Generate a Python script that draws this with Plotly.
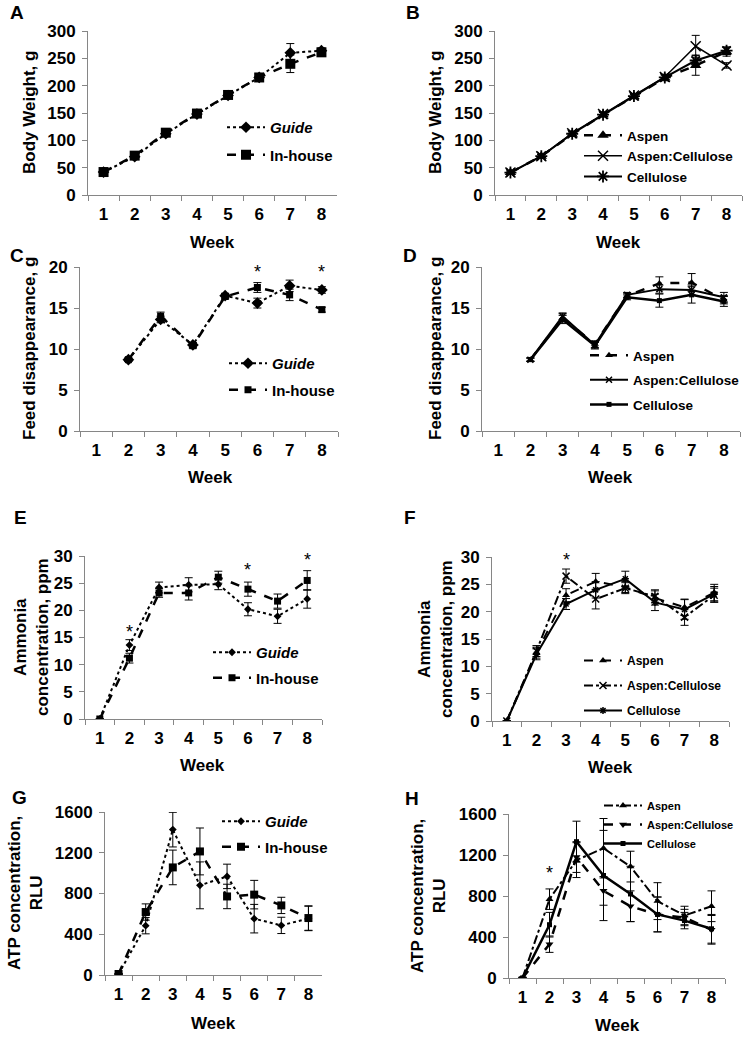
import plotly.graph_objects as go

W, H = 744, 1039
FONT = "Liberation Sans, Arial, sans-serif"
AXC = "#868686"

weeks = ["1", "2", "3", "4", "5", "6", "7", "8"]

# Panel A - body weight
bw_guide = [42, 70, 112, 148, 182, 215, 260, 264]
bw_guide_err = [3, 3, 4, 4, 4, 4, 17, 5]
bw_inhouse = [42, 72, 114, 149, 183, 215, 240, 261]
bw_inhouse_err = [3, 3, 4, 4, 4, 4, 16, 5]

# Panel B - body weight by bedding
bw_aspen = [41, 71, 111, 147, 180, 214, 237, 262]
bw_aspen_err = [3, 3, 4, 4, 4, 5, 18, 8]
bw_ac = [41, 71, 113, 148, 182, 216, 272, 237]
bw_ac_err = [3, 3, 4, 4, 4, 5, 20, 5]
bw_cell = [41, 71, 112, 147, 181, 215, 246, 264]
bw_cell_err = [3, 3, 4, 4, 4, 5, 10, 7]

# Panel C - feed disappearance
fd_guide = [None, 8.7, 13.6, 10.5, 16.5, 15.6, 17.7, 17.2]
fd_guide_err = [None, 0.2, 0.4, 0.3, 0.3, 0.6, 0.7, 0.4]
fd_inhouse = [None, 8.7, 14.0, 10.4, 16.4, 17.5, 16.6, 14.8]
fd_inhouse_err = [None, 0.2, 0.5, 0.3, 0.3, 0.6, 0.7, 0.3]

# Panel D - feed disappearance by bedding
fd_aspen = [None, 8.7, 13.8, 10.6, 16.5, 18.0, 18.1, 16.0]
fd_aspen_err = [None, 0.2, 0.5, 0.4, 0.3, 0.8, 1.1, 0.5]
fd_ac = [None, 8.7, 14.0, 10.5, 16.6, 17.3, 17.2, 16.3]
fd_ac_err = [None, 0.2, 0.4, 0.4, 0.3, 0.5, 0.6, 0.6]
fd_cell = [None, 8.7, 13.6, 10.4, 16.3, 15.9, 16.6, 15.8]
fd_cell_err = [None, 0.2, 0.5, 0.4, 0.3, 0.8, 1.0, 0.6]

# Panel E - ammonia
am_guide = [0, 13.6, 24.2, 24.7, 24.8, 20.2, 18.9, 22.1]
am_guide_err = [0, 1.0, 1.0, 1.3, 1.0, 1.2, 1.3, 1.7]
am_inhouse = [0, 11.2, 23.2, 23.2, 26.1, 23.9, 21.7, 25.5]
am_inhouse_err = [0, 0.9, 0.8, 1.3, 1.1, 1.3, 1.3, 1.8]

# Panel F - ammonia by bedding
am_aspen = [0, 12.5, 23.0, 25.5, 24.5, 22.5, 20.8, 23.5]
am_aspen_err = [0, 1.0, 1.2, 1.5, 1.0, 1.3, 1.5, 1.5]
am_ac = [0, 12.8, 26.5, 22.3, 24.3, 22.8, 19.0, 23.0]
am_ac_err = [0, 1.0, 1.3, 1.8, 1.0, 1.2, 1.5, 1.3]
am_cell = [0, 12.2, 21.4, 24.0, 26.0, 21.7, 20.4, 23.2]
am_cell_err = [0, 1.0, 1.0, 1.5, 1.4, 1.5, 1.8, 1.4]

# Panel G - ATP
atp_guide = [10, 484, 1427, 880, 968, 553, 487, 555]
atp_guide_err = [5, 80, 170, 230, 120, 140, 80, 120]
atp_inhouse = [10, 618, 1056, 1213, 771, 789, 683, 559]
atp_inhouse_err = [5, 80, 170, 230, 120, 140, 80, 120]

# Panel H - ATP by bedding
atp_aspen = [0, 769, 1150, 1266, 1087, 750, 610, 700]
atp_aspen_err = [5, 100, 170, 290, 150, 180, 90, 150]
atp_ac = [0, 330, 1180, 850, 700, 620, 590, 470]
atp_ac_err = [5, 80, 150, 140, 150, 170, 80, 140]
atp_cell = [0, 520, 1330, 1000, 820, 620, 560, 480]
atp_cell_err = [5, 120, 200, 440, 270, 170, 80, 140]

# significance stars (week number, height)
stars_C = ([6, 8], [19.4, 19.4])
stars_E = ([2, 6, 8], [16.0, 27.4, 29.2])
stars_F = ([3], [29.4])
stars_H = ([2], [1020])

def dx(p):
    return p / W

def dy(p):
    return 1 - p / H

# plot boxes in pixels: left, right, top, bottom
boxes = {
    1: (88, 337, 31, 195),
    2: (495, 742, 31, 195),
    3: (80, 338, 267, 431),
    4: (482, 740, 267, 431),
    5: (85, 322, 556, 719),
    6: (492, 729, 557, 721),
    7: (105, 322, 812, 975),
    8: (509, 725, 814, 978),
}
yranges = {1: (300, 50), 2: (300, 50), 3: (20, 5), 4: (20, 5),
           5: (30, 5), 6: (30, 5), 7: (1600, 400), 8: (1600, 400)}

fig = go.Figure()

def err(arr):
    return dict(type="data", array=arr, color="black", thickness=1, width=4, visible=True)

def add(panel, name, y, e, dash, symbol, msize, lw, legend, mline=0, italic=False):
    suffix = "" if panel == 1 else str(panel)
    label = "<i>%s</i>" % name if italic else name
    fig.add_trace(go.Scatter(
        x=weeks, y=y, name=label, mode="lines+markers",
        line=dict(color="black", width=lw, dash=dash),
        marker=dict(symbol=symbol, size=msize, color="black",
                    line=dict(color="black", width=mline)),
        error_y=err(e),
        xaxis="x" + suffix, yaxis="y" + suffix,
        legend=legend, legendgroup=name + str(panel),
        showlegend=True,
    ))

# A
add(1, "Guide", bw_guide, bw_guide_err, "dot", "diamond", 9, 2, "legend", italic=True)
add(1, "In-house", bw_inhouse, bw_inhouse_err, "dash", "square", 10, 2.5, "legend")
# B
add(2, "Aspen", bw_aspen, bw_aspen_err, "dash", "triangle-up", 10, 2.5, "legend2")
add(2, "Aspen:Cellulose", bw_ac, bw_ac_err, "solid", "x-thin-open", 10, 1.5, "legend2", mline=1.5)
add(2, "Cellulose", bw_cell, bw_cell_err, "solid", "asterisk-open", 10, 2, "legend2", mline=1.8)
# C
add(3, "Guide", fd_guide, fd_guide_err, "dot", "diamond", 9, 2, "legend3", italic=True)
add(3, "In-house", fd_inhouse, fd_inhouse_err, "dash", "square", 7, 2.5, "legend3")
# D
add(4, "Aspen", fd_aspen, fd_aspen_err, "dash", "triangle-up", 7, 2.5, "legend4")
add(4, "Aspen:Cellulose", fd_ac, fd_ac_err, "solid", "x-thin-open", 6, 2, "legend4", mline=1.5)
add(4, "Cellulose", fd_cell, fd_cell_err, "solid", "square", 5, 2.5, "legend4")
# E
add(5, "Guide", am_guide, am_guide_err, "dot", "diamond", 6, 2, "legend5", italic=True)
add(5, "In-house", am_inhouse, am_inhouse_err, "dash", "square", 7, 2.5, "legend5")
# F
add(6, "Aspen", am_aspen, am_aspen_err, "dash", "triangle-up", 7, 2, "legend6")
add(6, "Aspen:Cellulose", am_ac, am_ac_err, "dashdot", "x-thin-open", 7, 2, "legend6", mline=1.5)
add(6, "Cellulose", am_cell, am_cell_err, "solid", "asterisk-open", 6, 2, "legend6", mline=1.5)
# G
add(7, "Guide", atp_guide, atp_guide_err, "dot", "diamond", 6, 2, "legend7", italic=True)
add(7, "In-house", atp_inhouse, atp_inhouse_err, "dash", "square", 8, 2.5, "legend7")
# H
add(8, "Aspen", atp_aspen, atp_aspen_err, "dashdot", "triangle-up", 7, 2, "legend8")
add(8, "Aspen:Cellulose", atp_ac, atp_ac_err, "dash", "triangle-down", 7, 2.5, "legend8")
add(8, "Cellulose", atp_cell, atp_cell_err, "solid", "square", 5, 2.5, "legend8")

layout = dict(
    width=W, height=H, margin=dict(l=0, r=0, t=0, b=0, pad=0, autoexpand=False),
    paper_bgcolor="white", plot_bgcolor="white",
    font=dict(family=FONT, color="black"),
    showlegend=True,
)

for i, (l, r, t, b) in boxes.items():
    s = "" if i == 1 else str(i)
    ymax, dt = yranges[i]
    layout["xaxis" + s] = dict(
        domain=[dx(l), dx(r)], anchor="y" + s, type="category",
        categoryorder="array", categoryarray=weeks, range=[-0.5, 7.5],
        tickson="boundaries", ticks="outside", ticklen=5, tickcolor=AXC,
        showline=True, linecolor=AXC, linewidth=1, showgrid=False, zeroline=False,
        tickfont=dict(family=FONT, size=17, color="black", weight="bold"),
        ticklabelstandoff=4, fixedrange=True, automargin=False,
    )
    layout["yaxis" + s] = dict(
        domain=[dy(b), dy(t)], anchor="x" + s, range=[0, ymax], dtick=dt, tick0=0,
        ticks="outside", ticklen=5, tickcolor=AXC,
        showline=True, linecolor=AXC, linewidth=1, showgrid=False, zeroline=False,
        tickfont=dict(family=FONT, size=17, color="black", weight="bold"),
        ticklabelstandoff=3, fixedrange=True, automargin=False,
    )

# legends: (text_x, first_item_y, font size, gap)
legs = {
    "legend": (272, 128, 15, 5),
    "legend2": (629, 137, 13.5, 0),
    "legend3": (274, 364, 15, 4),
    "legend4": (635, 357, 13.5, 4),
    "legend5": (258, 653, 15, 3),
    "legend6": (629, 663, 12, 6),
    "legend7": (267, 822, 15, 3),
    "legend8": (649, 808, 11, 0),
}
for k, (tx, ty, fs, gap) in legs.items():
    layout[k] = dict(
        x=dx(tx - 50), y=dy(ty - 17), xanchor="left", yanchor="top",
        bgcolor="rgba(0,0,0,0)", borderwidth=0,
        font=dict(family=FONT, size=fs, color="black", weight="bold"),
        tracegroupgap=gap, itemwidth=38, traceorder="grouped",
    )

fig.update_layout(**layout)

ann = []
# panel letters
for txt, x, y in [("A", 17, 13), ("B", 413, 13), ("C", 17, 255), ("D", 410, 255),
                  ("E", 20, 517), ("F", 410, 517), ("G", 19, 797), ("H", 412, 798)]:
    ann.append(dict(text=txt, x=dx(x), y=dy(y), xref="paper", yref="paper",
                    showarrow=False, xanchor="center", yanchor="middle",
                    font=dict(family=FONT, size=19, color="black", weight="bold")))
# y titles
for txt, x, y in [("Body Weight, g", 29, 113), ("Body Weight, g", 435, 113),
                  ("Feed disappearance, g", 29, 349), ("Feed disappearance, g", 435, 349),
                  ("Ammonia<br>concentration, ppm", 31, 637), ("Ammonia<br>concentration, ppm", 435, 639),
                  ("ATP concentration,<br>RLU", 25, 893), ("ATP concentration,<br>RLU", 428, 896)]:
    ann.append(dict(text=txt, x=dx(x), y=dy(y), xref="paper", yref="paper",
                    showarrow=False, textangle=-90, xanchor="center", yanchor="middle",
                    font=dict(family=FONT, size=17, color="black", weight="bold")))
# x titles
for txt, x, y in [("Week", 212, 242), ("Week", 618, 242), ("Week", 210, 477), ("Week", 610, 477),
                  ("Week", 203, 765), ("Week", 610, 767), ("Week", 213, 1023), ("Week", 617, 1025)]:
    ann.append(dict(text=txt, x=dx(x), y=dy(y), xref="paper", yref="paper",
                    showarrow=False, xanchor="center", yanchor="middle",
                    font=dict(family=FONT, size=17, color="black", weight="bold")))
# stars (category axis positions are 0-based indexes)
for p, (sx, sy) in [(3, stars_C), (5, stars_E), (6, stars_F), (8, stars_H)]:
    s = str(p)
    for wk, yv in zip(sx, sy):
        ann.append(dict(text="*", x=weeks.index(str(wk)), y=yv, xref="x" + s, yref="y" + s,
                        showarrow=False, xanchor="center", yanchor="middle",
                        font=dict(family=FONT, size=18, color="black")))
fig.update_layout(annotations=ann)

post = ("var d=document.getElementById('{plot_id}');"
        "document.documentElement.style.margin='0';document.body.style.margin='0';"
        "document.body.style.padding='0';document.documentElement.style.overflow='hidden';"
        "d.style.position='fixed';d.style.left='0px';d.style.top='0px';")
fig.write_html("out.html", post_script=post, config={"displayModeBar": False})
